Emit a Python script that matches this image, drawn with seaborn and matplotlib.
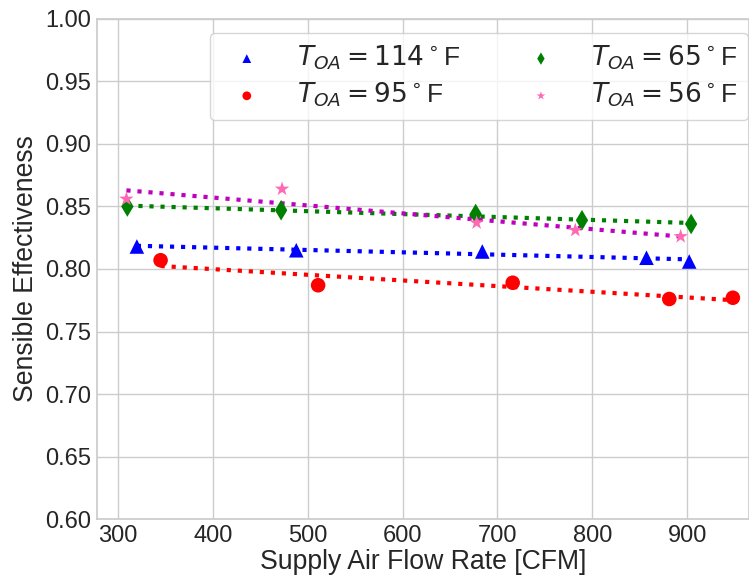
import numpy as np
import pandas as pd
import matplotlib
matplotlib.use("Agg")
import matplotlib.pyplot as plt
import seaborn as sns

# Measured sensible effectiveness vs supply air flow rate, by outdoor air temperature
flow_114 = [320, 488, 684, 857, 902]
eff_114 = [0.818, 0.815, 0.814, 0.809, 0.806]

flow_95 = [345, 511, 716, 881, 948]
eff_95 = [0.807, 0.787, 0.789, 0.776, 0.777]

flow_65 = [310, 472, 677, 789, 904]
eff_65 = [0.850, 0.847, 0.844, 0.839, 0.836]

flow_56 = [309, 473, 678, 782, 893]
eff_56 = [0.856, 0.864, 0.837, 0.831, 0.826]

labels = [r"$T_{OA} = 114^\circ$F", r"$T_{OA} = 95^\circ$F",
          r"$T_{OA} = 65^\circ$F", r"$T_{OA} = 56^\circ$F"]

sns.set_theme(style="whitegrid")
plt.rcParams["font.family"] = ["Liberation Sans", "DejaVu Sans"]
plt.rcParams["mathtext.fontset"] = "dejavusans"

series = [
    (flow_114, eff_114, "^", "#0000ff", "#0000ff"),
    (flow_95, eff_95, "o", "#ff0000", "#ff0000"),
    (flow_65, eff_65, "d", "#008000", "#008000"),
    (flow_56, eff_56, "*", "#ff69b4", "#bf00bf"),
]

fig = plt.figure(figsize=(7.49, 5.77), dpi=100)
ax = fig.add_axes([0.1295, 0.1005, 0.8705, 0.8666])

for (x, y, mk, mc, lc), lab in zip(series, labels):
    df = pd.DataFrame({"flow": x, "eff": y})
    sns.regplot(data=df, x="flow", y="eff", ax=ax, ci=None, scatter=False,
                line_kws=dict(color=lc, linestyle=":", linewidth=3, zorder=2))
    sns.scatterplot(data=df, x="flow", y="eff", ax=ax, marker=mk, color=mc,
                    s=110 if mk != "*" else 120, edgecolor="none", label=lab,
                    zorder=3)

ax.set_xlim(278, 965)
ax.set_ylim(0.60, 1.00)
yt = np.arange(0.60, 1.001, 0.05)
ax.set_yticks(yt)
ax.set_yticklabels([f"{v:.2f}" for v in yt])
ax.set_xticks([300, 400, 500, 600, 700, 800, 900])
ax.tick_params(labelsize=17, length=0, pad=4.5, colors="#262626")
ax.set_xlabel("Supply Air Flow Rate [CFM]", fontsize=19.2, labelpad=1,
              color="#262626")
ax.set_ylabel("Sensible Effectiveness", fontsize=19.2, labelpad=4,
              color="#262626")

ax.legend(loc="upper right", bbox_to_anchor=(0.999, 0.972), borderaxespad=0,
          ncol=2, fontsize=19, markerscale=0.6, frameon=True,
          columnspacing=2.05, handletextpad=0.9, labelspacing=0.33)

fig.savefig("out.png", dpi=100)
